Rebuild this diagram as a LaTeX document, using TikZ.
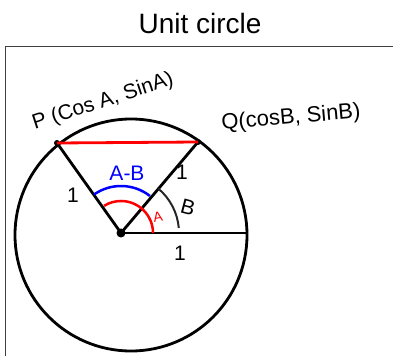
\documentclass[tikz,border=0pt]{standalone}
\usepackage{fontspec}
\setmainfont{Liberation Sans}
\begin{document}
\begin{tikzpicture}[x=1pt,y=1pt,
  stroke/.style={line width=2.8pt,black},
  hand/.style={font=\fontsize{21}{21}\selectfont, inner sep=0pt},
  dot/.style={circle,fill=black,inner sep=0pt,minimum size=#1}]
\useasboundingbox (0,0) rectangle (393,356);
% frame
\draw[black!75, line width=1.5pt] (5.5,0) -- (5.5,309.5) -- (393,309.5);
% title
\node[font=\fontsize{28}{28}\selectfont, inner sep=0pt] (title) at (200,333) {Unit circle};
% points
\coordinate (C) at (131,121);
\node[dot=9pt] (O) at (121,123) {};
\node[dot=6pt] (P) at (57,213) {};
\node[dot=6pt] (Q) at (198,214) {};
\coordinate (R) at (247,123);
% circle
\draw[stroke] (C) circle[radius=116pt];
% radii
\draw[stroke] (O.center) -- (P.center);
\draw[stroke] (O.center) -- (Q.center);
\draw[stroke] (O.center) -- (R);
% chord
\draw[red, line width=2.8pt] (P.center) -- (Q.center);
% angle arcs
\draw[red, line width=2.5pt] ([shift={(0:32pt)}]O.center) arc[start angle=0,end angle=122,radius=32pt];
\draw[blue, line width=2.5pt] ([shift={(52:47pt)}]O.center) arc[start angle=52,end angle=125,radius=47pt];
\draw[black!85, line width=2pt] ([shift={(5:58pt)}]O.center) arc[start angle=5,end angle=50,radius=58pt];
% labels
\node[hand, rotate=18] (pl) at (103,254) {P (Cos A, SinA)};
\node[hand, rotate=5, font=\fontsize{22}{22}\selectfont] (ql) at (291,238) {Q(cosB, SinB)};
\node[hand, blue] (ab) at (127,183) {A-B};
\node[hand, red, font=\fontsize{14}{14}\selectfont, rotate=10] (la) at (158,139) {A};
\node[hand, rotate=-15] (lb) at (188,149) {B};
\node[hand] (one1) at (73,161) {1};
\node[hand] (one2) at (182,184) {1};
\node[hand] (one3) at (180,103) {1};
\end{tikzpicture}
\end{document}
